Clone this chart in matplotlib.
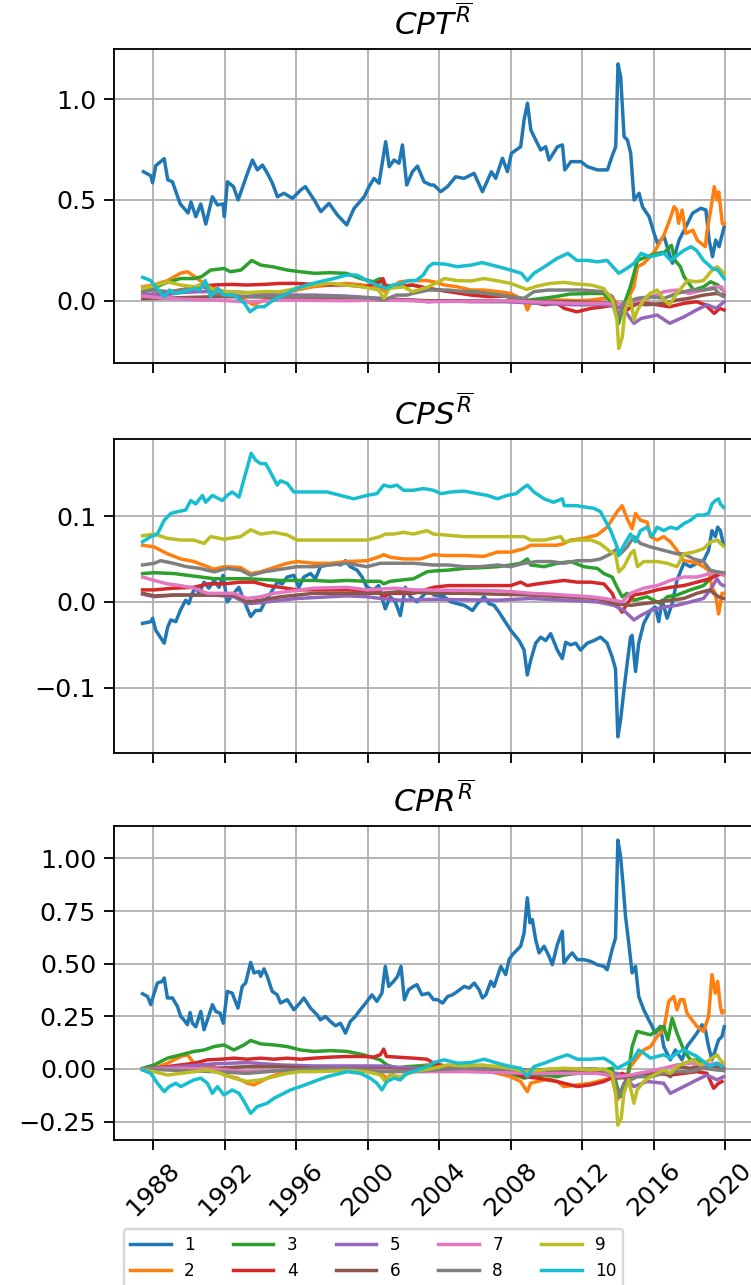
import matplotlib
matplotlib.use("Agg")
import matplotlib.pyplot as plt

# (year, value) readings per series, panel CPT
cpt_1 = [(1987.44, 0.64), (1987.85, 0.62), (1987.95, 0.585), (1988.13, 0.67), (1988.4, 0.69), (1988.6, 0.705),
         (1988.8, 0.60), (1989.06, 0.59), (1989.5, 0.48), (1989.94, 0.435), (1990.1, 0.49), (1990.37, 0.417),
         (1990.65, 0.48), (1990.93, 0.38), (1991.3, 0.516), (1991.58, 0.475), (1991.9, 0.48), (1991.97, 0.417),
         (1992.14, 0.59), (1992.48, 0.566), (1992.74, 0.50), (1993.26, 0.632), (1993.54, 0.698), (1993.82, 0.649),
         (1994.1, 0.673), (1994.38, 0.632), (1994.66, 0.583), (1994.94, 0.516), (1995.3, 0.533), (1995.78, 0.508),
         (1996.25, 0.55), (1996.5, 0.566), (1997.0, 0.50), (1997.37, 0.442), (1997.83, 0.483), (1998.3, 0.425),
         (1998.82, 0.376), (1999.23, 0.458), (1999.8, 0.516), (2000.07, 0.566), (2000.35, 0.607), (2000.63, 0.583),
         (2001.0, 0.789), (2001.2, 0.665), (2001.47, 0.698), (2001.75, 0.682), (2001.94, 0.773), (2002.18, 0.574),
         (2002.5, 0.64), (2002.78, 0.668), (2003.15, 0.59), (2003.52, 0.574), (2003.7, 0.574), (2004.08, 0.541),
         (2004.46, 0.566), (2004.92, 0.615), (2005.39, 0.607), (2005.95, 0.632), (2006.42, 0.541), (2006.92, 0.64),
         (2007.16, 0.607), (2007.54, 0.707), (2007.82, 0.64), (2008.04, 0.731), (2008.56, 0.764), (2008.75, 0.897),
         (2008.94, 0.98), (2009.13, 0.847), (2009.4, 0.797), (2009.68, 0.748), (2009.96, 0.764), (2010.15, 0.698),
         (2010.62, 0.764), (2010.9, 0.773), (2011.03, 0.649), (2011.37, 0.69), (2011.93, 0.69), (2012.3, 0.665),
         (2012.86, 0.649), (2013.42, 0.649), (2013.7, 0.723), (2013.88, 0.764), (2014.01, 1.175), (2014.16, 1.11),
         (2014.35, 0.814), (2014.54, 0.797), (2014.72, 0.731), (2014.91, 0.50), (2015.19, 0.533), (2015.38, 0.466),
         (2015.75, 0.417), (2016.03, 0.334), (2016.22, 0.285), (2016.59, 0.318), (2016.87, 0.235), (2017.06, 0.186),
         (2017.43, 0.301), (2017.81, 0.367), (2018.18, 0.434), (2018.65, 0.459), (2018.93, 0.45), (2019.11, 0.301),
         (2019.3, 0.218), (2019.48, 0.301), (2019.67, 0.268), (2019.95, 0.367)]
cpt_2 = [(1987.4, 0.069), (1988.0, 0.078), (1988.8, 0.10), (1989.5, 0.136), (1989.9, 0.144), (1990.3, 0.12),
         (1990.7, 0.094), (1991.2, 0.069), (1991.95, 0.045), (1992.9, 0.012), (1993.6, -0.02), (1994.0, -0.005),
         (1994.5, 0.012), (1995.1, 0.028), (1996.0, 0.053), (1996.9, 0.069), (1997.9, 0.078), (1998.8, 0.086),
         (1999.7, 0.078), (2000.6, 0.069), (2000.95, 0.045), (2001.8, 0.094), (2002.5, 0.10), (2003.3, 0.10),
         (2003.7, 0.094), (2004.3, 0.078), (2005.0, 0.069), (2005.8, 0.053), (2006.5, 0.053), (2007.3, 0.045),
         (2008.0, 0.036), (2008.75, 0.003), (2008.93, -0.046), (2009.1, -0.013), (2009.9, 0.003), (2011.0, 0.003),
         (2011.7, 0.0), (2012.5, 0.003), (2013.2, 0.012), (2013.7, 0.012), (2014.15, -0.03), (2014.5, 0.0),
         (2014.9, 0.069), (2015.1, 0.169), (2015.45, 0.185), (2015.8, 0.218), (2016.1, 0.25), (2016.6, 0.33),
         (2016.9, 0.40), (2017.15, 0.466), (2017.3, 0.45), (2017.4, 0.384), (2017.6, 0.45), (2017.8, 0.334),
         (2018.2, 0.35), (2018.45, 0.30), (2018.9, 0.268), (2019.0, 0.35), (2019.2, 0.45), (2019.4, 0.566),
         (2019.55, 0.50), (2019.65, 0.54), (2019.85, 0.384), (2019.95, 0.38)]
cpt_3 = [(1987.4, 0.045), (1988.0, 0.061), (1988.6, 0.086), (1989.5, 0.11), (1990.3, 0.11), (1990.7, 0.12),
         (1991.2, 0.152), (1991.95, 0.16), (1992.3, 0.144), (1992.9, 0.152), (1993.5, 0.20), (1994.0, 0.177),
         (1994.7, 0.168), (1995.5, 0.152), (1996.2, 0.144), (1997.0, 0.136), (1997.9, 0.139), (1998.8, 0.136),
         (1999.6, 0.11), (2000.3, 0.094), (2000.7, 0.11), (2000.9, 0.078), (2001.8, 0.069), (2002.5, 0.078),
         (2003.3, 0.061), (2003.9, 0.053), (2004.9, 0.045), (2005.8, 0.045), (2006.7, 0.036), (2007.4, 0.028),
         (2008.2, 0.012), (2009.0, 0.003), (2009.8, 0.012), (2010.5, 0.02), (2011.3, 0.033), (2012.5, 0.036),
         (2013.2, 0.036), (2013.7, -0.013), (2014.05, -0.112), (2014.3, -0.03), (2014.7, 0.069), (2015.1, 0.20),
         (2015.6, 0.218), (2016.2, 0.235), (2016.6, 0.24), (2017.0, 0.275), (2017.2, 0.20), (2017.5, 0.169),
         (2017.7, 0.12), (2018.25, 0.053), (2018.8, 0.069), (2019.2, 0.094), (2019.6, 0.078), (2019.95, 0.045)]
cpt_4 = [(1987.4, 0.028), (1988.6, 0.036), (1989.5, 0.053), (1990.5, 0.069), (1991.4, 0.078), (1992.3, 0.081),
         (1993.2, 0.078), (1994.2, 0.081), (1995.1, 0.086), (1996.0, 0.086), (1997.0, 0.081), (1997.9, 0.078),
         (1998.8, 0.078), (1999.9, 0.069), (2000.7, 0.094), (2000.85, 0.11), (2001.0, 0.069), (2001.6, 0.069),
         (2002.5, 0.078), (2003.4, 0.061), (2004.0, 0.053), (2004.9, 0.04), (2005.8, 0.028), (2006.8, 0.02),
         (2007.7, 0.023), (2008.4, 0.012), (2009.1, -0.005), (2009.9, -0.02), (2010.6, -0.013), (2011.0, -0.038),
         (2011.7, -0.055), (2012.5, -0.038), (2013.2, -0.03), (2013.9, -0.02), (2014.5, -0.046), (2015.1, -0.013),
         (2015.6, -0.013), (2016.2, -0.02), (2016.9, -0.03), (2017.7, -0.013), (2018.4, -0.005), (2018.9, -0.02),
         (2019.4, -0.063), (2019.7, -0.038), (2019.95, -0.046)]
cpt_5 = [(1987.4, 0.033), (1988.6, 0.028), (1989.5, 0.04), (1990.5, 0.045), (1992.3, 0.045), (1993.2, 0.04),
         (1994.2, 0.033), (1995.1, 0.028), (1997.0, 0.028), (1998.8, 0.023), (2000.7, 0.012), (2002.5, 0.003),
         (2003.4, -0.005), (2004.0, 0.0), (2005.8, -0.005), (2007.7, -0.005), (2009.6, -0.013), (2011.5, -0.02),
         (2013.3, -0.02), (2014.0, -0.03), (2014.5, -0.063), (2014.9, -0.112), (2015.3, -0.088), (2016.2, -0.071),
         (2016.9, -0.112), (2017.7, -0.08), (2018.4, -0.046), (2019.0, -0.02), (2019.5, -0.038), (2019.95, -0.005)]
cpt_6 = [(1987.4, 0.01), (1988.6, 0.012), (1989.5, 0.015), (1991.4, 0.02), (1993.2, 0.02), (1995.1, 0.017),
         (1997.0, 0.012), (1998.8, 0.01), (2000.7, 0.007), (2002.5, 0.003), (2003.4, 0.0), (2007.7, 0.0),
         (2011.5, -0.005), (2013.3, -0.01), (2014.0, -0.02), (2014.8, -0.013), (2015.6, -0.02), (2016.6, -0.013),
         (2017.3, 0.003), (2018.0, 0.012), (2018.8, 0.028), (2019.5, 0.036), (2019.95, 0.028)]
cpt_7 = [(1987.4, 0.023), (1988.6, 0.012), (1989.5, 0.008), (1991.4, 0.003), (1993.2, -0.005), (1994.2, -0.002),
         (1995.1, 0.003), (1998.8, 0.0), (2000.7, 0.003), (2002.5, 0.0), (2003.4, -0.005), (2007.7, 0.0),
         (2011.5, -0.013), (2013.3, -0.013), (2014.0, -0.02), (2014.8, -0.005), (2015.7, 0.012), (2016.6, 0.045),
         (2017.3, 0.053), (2018.0, 0.036), (2018.8, 0.053), (2019.4, 0.069), (2019.8, 0.069), (2019.95, 0.045)]
cpt_8 = [(1987.4, 0.045), (1988.0, 0.053), (1988.8, 0.045), (1989.5, 0.053), (1990.3, 0.061), (1990.8, 0.069),
         (1991.4, 0.036), (1992.3, 0.028), (1993.2, 0.02), (1994.2, 0.023), (1997.0, 0.023), (1998.8, 0.02),
         (2000.3, 0.012), (2000.9, 0.003), (2001.6, 0.028), (2002.2, 0.028), (2002.5, 0.036), (2003.4, 0.053),
         (2004.5, 0.053), (2005.4, 0.045), (2006.3, 0.04), (2007.3, 0.028), (2008.0, 0.02), (2008.75, 0.012),
         (2009.3, 0.045), (2010.1, 0.053), (2012.0, 0.053), (2013.2, 0.045), (2013.7, 0.02), (2014.05, -0.08),
         (2014.3, -0.013), (2015.1, 0.012), (2015.8, 0.02), (2016.6, 0.012), (2017.3, 0.036), (2018.1, 0.053),
         (2018.8, 0.053), (2019.4, 0.061), (2019.75, 0.028), (2019.95, 0.02)]
cpt_9 = [(1987.4, 0.061), (1988.2, 0.078), (1988.8, 0.094), (1989.5, 0.078), (1990.3, 0.069), (1990.8, 0.086),
         (1991.4, 0.053), (1992.1, 0.045), (1993.2, 0.04), (1994.2, 0.045), (1995.1, 0.045), (1996.0, 0.061),
         (1997.0, 0.078), (1997.9, 0.086), (1998.8, 0.078), (1999.7, 0.069), (2000.6, 0.053), (2000.9, 0.012),
         (2001.2, 0.061), (2002.0, 0.069), (2002.5, 0.045), (2003.4, 0.069), (2004.3, 0.11), (2005.0, 0.10),
         (2005.8, 0.098), (2006.5, 0.11), (2007.3, 0.098), (2008.0, 0.086), (2008.9, 0.056), (2009.5, 0.073),
         (2010.2, 0.086), (2011.0, 0.091), (2011.7, 0.083), (2012.5, 0.078), (2013.2, 0.061), (2013.7, 0.003),
         (2013.95, -0.096), (2014.05, -0.237), (2014.25, -0.18), (2014.4, -0.046), (2014.7, 0.02), (2014.9, -0.096),
         (2015.1, -0.046), (2015.45, 0.003), (2015.8, 0.036), (2016.2, 0.053), (2016.6, 0.003), (2016.9, -0.02),
         (2017.3, 0.036), (2017.9, 0.10), (2018.4, 0.094), (2018.8, 0.10), (2019.2, 0.144), (2019.55, 0.169),
         (2019.95, 0.136)]
cpt_10 = [(1987.4, 0.116), (1987.85, 0.10), (1988.2, 0.061), (1988.6, 0.02), (1988.9, 0.053), (1989.2, 0.036),
          (1989.7, 0.045), (1990.3, 0.061), (1990.6, 0.053), (1990.9, 0.10), (1991.2, 0.02), (1991.6, 0.061),
          (1991.95, 0.028), (1992.5, 0.028), (1993.1, -0.013), (1993.4, -0.055), (1993.8, -0.03), (1994.2, -0.03),
          (1994.7, 0.003), (1995.3, 0.028), (1996.0, 0.061), (1996.6, 0.078), (1997.3, 0.094), (1998.1, 0.11),
          (1998.8, 0.127), (1999.4, 0.127), (1999.95, 0.10), (2000.5, 0.078), (2001.05, 0.061), (2001.4, 0.078),
          (2001.9, 0.086), (2002.3, 0.10), (2002.7, 0.10), (2003.1, 0.127), (2003.4, 0.169), (2003.66, 0.185),
          (2004.3, 0.182), (2005.0, 0.169), (2005.8, 0.177), (2006.4, 0.189), (2007.3, 0.169), (2008.0, 0.152),
          (2008.6, 0.136), (2008.93, 0.10), (2009.3, 0.136), (2009.9, 0.169), (2010.6, 0.21), (2011.2, 0.235),
          (2011.7, 0.20), (2012.3, 0.20), (2012.85, 0.193), (2013.4, 0.20), (2014.05, 0.136), (2014.5, 0.16),
          (2014.9, 0.185), (2015.3, 0.235), (2015.8, 0.218), (2016.6, 0.235), (2016.95, 0.20), (2017.7, 0.25),
          (2018.1, 0.268), (2018.4, 0.25), (2018.8, 0.20), (2019.3, 0.16), (2019.6, 0.152), (2019.95, 0.11)]

# panel CPS
cps_1 = [(1987.39, -0.025), (1987.86, -0.023), (1987.95, -0.019), (1988.13, -0.033), (1988.6, -0.048),
         (1988.8, -0.029), (1988.97, -0.021), (1989.25, -0.023), (1989.5, -0.01), (1989.8, 0.002), (1989.98, -0.002),
         (1990.17, 0.01), (1990.36, 0.017), (1990.55, 0.01), (1990.83, 0.023), (1991.1, 0.016), (1991.39, 0.025),
         (1991.67, 0.017), (1991.9, 0.031), (1992.13, 0.0), (1992.5, 0.01), (1992.78, 0.017), (1993.06, 0.002),
         (1993.44, -0.017), (1993.72, -0.01), (1994.0, -0.01), (1994.28, 0.002), (1994.56, 0.01), (1994.93, 0.023),
         (1995.21, 0.021), (1995.49, 0.029), (1995.86, 0.031), (1996.14, 0.017), (1996.42, 0.029), (1996.79, 0.033),
         (1997.07, 0.027), (1997.35, 0.041), (1997.72, 0.043), (1998.09, 0.045), (1998.47, 0.043), (1998.75, 0.048),
         (1999.02, 0.041), (1999.4, 0.037), (1999.68, 0.029), (1999.95, 0.017), (2000.33, 0.014), (2000.61, 0.019),
         (2000.89, -0.002), (2000.98, -0.008), (2001.26, 0.006), (2001.54, 0.0), (2001.82, -0.016), (2002.1, 0.017),
         (2002.38, 0.006), (2002.75, 0.0), (2003.13, 0.008), (2003.41, 0.014), (2003.7, 0.008), (2004.28, 0.006),
         (2004.65, 0.0), (2005.02, -0.002), (2005.4, -0.004), (2005.86, -0.01), (2006.14, -0.002), (2006.51, 0.006),
         (2006.79, -0.002), (2007.07, -0.004), (2007.35, -0.012), (2007.63, -0.021), (2008.0, -0.033),
         (2008.47, -0.045), (2008.75, -0.056), (2008.93, -0.085), (2009.12, -0.068), (2009.4, -0.048),
         (2009.68, -0.041), (2009.96, -0.045), (2010.24, -0.037), (2010.61, -0.056), (2010.89, -0.066),
         (2011.08, -0.047), (2011.36, -0.05), (2011.64, -0.048), (2011.91, -0.056), (2012.29, -0.048),
         (2012.66, -0.045), (2013.03, -0.041), (2013.4, -0.048), (2013.68, -0.064), (2013.87, -0.078),
         (2014.0, -0.157), (2014.15, -0.138), (2014.34, -0.103), (2014.52, -0.072), (2014.71, -0.041),
         (2014.8, -0.039), (2014.99, -0.081), (2015.17, -0.048), (2015.45, -0.025), (2015.83, -0.01),
         (2016.1, -0.006), (2016.29, -0.023), (2016.48, 0.002), (2016.76, -0.019), (2017.04, -0.002),
         (2017.31, 0.025), (2017.69, 0.045), (2018.06, 0.041), (2018.43, 0.045), (2018.8, 0.048), (2019.08, 0.06),
         (2019.27, 0.083), (2019.46, 0.076), (2019.59, 0.087), (2019.74, 0.083), (2019.92, 0.066)]
cps_2 = [(1987.39, 0.066), (1988.04, 0.064), (1988.78, 0.056), (1989.53, 0.05), (1990.27, 0.047), (1991.02, 0.041),
         (1991.39, 0.038), (1991.95, 0.041), (1992.88, 0.04), (1993.44, 0.033), (1994.0, 0.035), (1994.74, 0.04),
         (1995.49, 0.045), (1996.04, 0.047), (1996.98, 0.045), (1997.91, 0.045), (1998.84, 0.047), (1999.96, 0.048),
         (2000.7, 0.053), (2000.89, 0.055), (2001.26, 0.052), (2002.0, 0.05), (2002.93, 0.05), (2003.68, 0.055),
         (2004.28, 0.054), (2005.4, 0.054), (2006.5, 0.053), (2007.26, 0.058), (2008.0, 0.058), (2008.75, 0.062),
         (2009.12, 0.066), (2010.6, 0.066), (2010.98, 0.068), (2011.36, 0.072), (2012.1, 0.074), (2012.85, 0.078),
         (2013.4, 0.087), (2013.96, 0.105), (2014.24, 0.112), (2014.52, 0.097), (2014.8, 0.085), (2014.99, 0.103),
         (2015.27, 0.095), (2015.64, 0.093), (2015.83, 0.076), (2016.2, 0.072), (2016.57, 0.076), (2016.94, 0.07),
         (2017.31, 0.06), (2017.69, 0.048), (2018.06, 0.047), (2018.43, 0.045), (2018.8, 0.041), (2019.08, 0.037),
         (2019.27, 0.017), (2019.46, 0.01), (2019.64, -0.014), (2019.74, -0.002), (2019.83, 0.01), (2019.92, 0.01)]
cps_3 = [(1987.39, 0.033), (1988.04, 0.034), (1989.15, 0.033), (1989.9, 0.031), (1990.65, 0.029), (1991.39, 0.027),
         (1993.25, 0.027), (1994.19, 0.026), (1995.11, 0.025), (1996.98, 0.025), (1997.91, 0.024), (1998.84, 0.025),
         (1999.96, 0.024), (2000.7, 0.024), (2000.89, 0.021), (2001.26, 0.024), (2002.56, 0.027), (2003.31, 0.035),
         (2003.68, 0.036), (2004.5, 0.037), (2005.4, 0.039), (2006.5, 0.04), (2007.26, 0.041), (2008.0, 0.043),
         (2008.56, 0.045), (2008.93, 0.05), (2009.12, 0.043), (2009.87, 0.041), (2010.61, 0.045), (2011.36, 0.047),
         (2012.1, 0.041), (2012.85, 0.039), (2013.22, 0.033), (2013.68, 0.029), (2013.96, 0.017), (2014.24, 0.006),
         (2014.52, 0.01), (2014.9, 0.002), (2015.27, 0.004), (2015.64, 0.006), (2016.0, 0.002), (2016.38, -0.002),
         (2016.76, 0.006), (2017.31, 0.008), (2018.06, 0.014), (2018.8, 0.019), (2019.17, 0.027), (2019.55, 0.033),
         (2019.92, 0.033)]
cps_4 = [(1987.39, 0.014), (1988.04, 0.014), (1989.15, 0.016), (1990.27, 0.017), (1991.02, 0.021), (1991.95, 0.021),
         (1992.88, 0.023), (1993.63, 0.023), (1994.37, 0.019), (1995.11, 0.017), (1996.04, 0.014), (1998.84, 0.014),
         (1999.96, 0.013), (2000.7, 0.01), (2000.89, 0.006), (2001.26, 0.01), (2002.56, 0.01), (2003.68, 0.017),
         (2004.5, 0.019), (2008.0, 0.019), (2008.56, 0.023), (2008.93, 0.019), (2009.5, 0.021), (2010.24, 0.023),
         (2010.98, 0.025), (2011.73, 0.023), (2012.48, 0.023), (2013.22, 0.021), (2013.68, 0.01), (2013.96, -0.004),
         (2014.24, -0.012), (2014.52, -0.002), (2014.9, 0.008), (2015.45, 0.01), (2016.2, 0.014), (2016.94, 0.017),
         (2017.69, 0.019), (2018.43, 0.023), (2018.8, 0.025), (2019.17, 0.027), (2019.55, 0.031), (2019.92, 0.033)]
cps_5 = [(1987.39, 0.009), (1988.04, 0.006), (1989.15, 0.008), (1991.39, 0.008), (1992.5, 0.006), (1993.25, -0.002),
         (1994.0, -0.001), (1995.11, 0.002), (1996.04, 0.004), (1996.98, 0.005), (1998.84, 0.007), (1999.96, 0.006),
         (2000.7, 0.004), (2001.8, 0.002), (2003.68, 0.003), (2007.26, 0.002), (2009.12, 0.004), (2010.98, 0.002),
         (2012.85, 0.0), (2013.78, -0.004), (2014.34, -0.01), (2014.9, -0.021), (2015.27, -0.016), (2015.83, -0.01),
         (2016.57, -0.006), (2017.31, -0.004), (2018.06, 0.0), (2018.8, 0.004), (2019.27, 0.017), (2019.55, 0.027),
         (2019.74, 0.021), (2019.92, 0.019)]
cps_6 = [(1987.39, 0.01), (1988.04, 0.007), (1989.15, 0.008), (1992.5, 0.008), (1993.25, 0.0), (1994.0, 0.002),
         (1995.11, 0.006), (1996.04, 0.008), (1996.98, 0.01), (2000.7, 0.01), (2001.8, 0.012), (2003.68, 0.01),
         (2005.4, 0.01), (2007.26, 0.009), (2009.12, 0.008), (2010.98, 0.006), (2012.85, 0.004), (2013.78, -0.002),
         (2014.71, -0.004), (2015.45, -0.002), (2016.2, 0.0), (2016.94, 0.002), (2017.69, 0.004), (2018.43, 0.01),
         (2019.17, 0.014), (2019.36, 0.01), (2019.64, 0.006), (2019.92, 0.004)]
cps_7 = [(1987.39, 0.029), (1988.04, 0.025), (1988.78, 0.021), (1989.53, 0.019), (1990.27, 0.016), (1991.02, 0.01),
         (1992.5, 0.01), (1993.25, 0.004), (1994.0, 0.006), (1994.74, 0.01), (1995.86, 0.013), (1996.98, 0.016),
         (1998.84, 0.017), (1999.96, 0.014), (2001.5, 0.016), (2002.56, 0.014), (2007.26, 0.013), (2008.0, 0.012),
         (2009.12, 0.01), (2010.24, 0.009), (2011.0, 0.008), (2011.73, 0.007), (2012.48, 0.006), (2013.22, 0.004),
         (2013.78, 0.002), (2014.24, 0.0), (2014.71, 0.01), (2015.45, 0.016), (2016.2, 0.019), (2016.94, 0.025),
         (2017.69, 0.029), (2018.43, 0.029), (2019.17, 0.033), (2019.55, 0.035), (2019.92, 0.031)]
cps_8 = [(1987.39, 0.043), (1988.04, 0.045), (1988.4, 0.048), (1989.1, 0.045), (1989.85, 0.041), (1990.6, 0.039),
         (1991.39, 0.035), (1992.13, 0.039), (1992.88, 0.037), (1993.44, 0.031), (1994.19, 0.035), (1995.11, 0.038),
         (1996.04, 0.041), (1996.98, 0.041), (1997.91, 0.043), (1998.84, 0.045), (1999.96, 0.041), (2000.7, 0.045),
         (2002.56, 0.045), (2003.68, 0.043), (2004.5, 0.043), (2005.4, 0.041), (2006.3, 0.041), (2007.26, 0.043),
         (2008.0, 0.041), (2008.75, 0.045), (2009.5, 0.047), (2010.24, 0.047), (2010.98, 0.045), (2011.73, 0.048),
         (2012.48, 0.048), (2013.03, 0.05), (2013.6, 0.056), (2013.96, 0.062), (2014.15, 0.056), (2014.52, 0.064),
         (2014.9, 0.076), (2015.27, 0.068), (2015.83, 0.064), (2016.57, 0.06), (2017.31, 0.056), (2017.69, 0.056),
         (2018.25, 0.05), (2018.8, 0.047), (2019.17, 0.037), (2019.55, 0.035), (2019.92, 0.034)]
cps_9 = [(1987.39, 0.077), (1988.04, 0.079), (1988.78, 0.074), (1989.53, 0.072), (1990.27, 0.072), (1990.83, 0.068),
         (1991.2, 0.076), (1991.95, 0.073), (1992.88, 0.076), (1993.44, 0.084), (1994.0, 0.079), (1994.74, 0.081),
         (1995.49, 0.078), (1996.04, 0.072), (1999.96, 0.072), (2000.7, 0.076), (2000.98, 0.079), (2001.45, 0.079),
         (2002.0, 0.081), (2002.56, 0.079), (2003.31, 0.083), (2003.68, 0.079), (2004.28, 0.078), (2005.4, 0.076),
         (2008.75, 0.076), (2009.12, 0.072), (2009.87, 0.072), (2010.8, 0.076), (2011.0, 0.07), (2011.7, 0.072),
         (2012.5, 0.072), (2013.0, 0.068), (2013.6, 0.058), (2013.87, 0.056), (2014.05, 0.035), (2014.34, 0.041),
         (2014.71, 0.056), (2014.9, 0.06), (2015.1, 0.041), (2015.45, 0.047), (2016.2, 0.047), (2016.76, 0.045),
         (2017.31, 0.041), (2017.69, 0.056), (2018.25, 0.058), (2018.8, 0.062), (2019.2, 0.07), (2019.59, 0.072),
         (2019.74, 0.068), (2019.92, 0.065)]
cps_10 = [(1987.39, 0.07), (1987.85, 0.076), (1988.22, 0.079), (1988.6, 0.095), (1988.97, 0.103), (1989.35, 0.105),
          (1989.8, 0.107), (1990.09, 0.118), (1990.37, 0.114), (1990.74, 0.124), (1990.92, 0.116), (1991.3, 0.124),
          (1991.85, 0.118), (1992.13, 0.124), (1992.41, 0.128), (1992.79, 0.122), (1993.07, 0.143), (1993.47, 0.173),
          (1993.72, 0.165), (1994.0, 0.161), (1994.28, 0.161), (1994.55, 0.151), (1994.93, 0.136), (1995.11, 0.141),
          (1995.49, 0.138), (1995.86, 0.128), (1997.72, 0.128), (1998.47, 0.124), (1999.21, 0.12), (1999.96, 0.124),
          (2000.51, 0.126), (2000.89, 0.136), (2001.26, 0.134), (2001.63, 0.136), (2002.0, 0.13), (2002.56, 0.13),
          (2003.12, 0.132), (2003.68, 0.13), (2004.1, 0.126), (2004.65, 0.128), (2005.4, 0.129), (2006.14, 0.126),
          (2006.7, 0.124), (2007.26, 0.12), (2007.8, 0.124), (2008.3, 0.126), (2008.65, 0.132), (2008.93, 0.136),
          (2009.3, 0.128), (2009.87, 0.12), (2010.4, 0.116), (2010.89, 0.12), (2011.0, 0.112), (2011.7, 0.112),
          (2012.3, 0.11), (2012.66, 0.109), (2013.03, 0.105), (2013.6, 0.083), (2013.96, 0.064), (2014.05, 0.054),
          (2014.34, 0.066), (2014.71, 0.079), (2014.99, 0.07), (2015.27, 0.083), (2015.64, 0.087), (2015.92, 0.076),
          (2016.2, 0.087), (2016.57, 0.083), (2016.94, 0.087), (2017.31, 0.085), (2017.69, 0.091), (2018.06, 0.095),
          (2018.43, 0.101), (2018.8, 0.101), (2019.08, 0.103), (2019.27, 0.114), (2019.46, 0.118), (2019.64, 0.12),
          (2019.74, 0.114), (2019.92, 0.11)]

# panel CPR
cpr_1 = [(1987.39, 0.357), (1987.67, 0.344), (1987.85, 0.305), (1988.04, 0.36), (1988.22, 0.408), (1988.5, 0.416),
         (1988.6, 0.432), (1988.78, 0.337), (1989.06, 0.337), (1989.34, 0.297), (1989.53, 0.249), (1989.71, 0.233),
         (1989.9, 0.21), (1990.05, 0.268), (1990.18, 0.217), (1990.37, 0.20), (1990.65, 0.273), (1990.83, 0.186),
         (1991.02, 0.233), (1991.3, 0.305), (1991.49, 0.273), (1991.73, 0.265), (1991.91, 0.217), (1992.13, 0.368),
         (1992.41, 0.36), (1992.73, 0.289), (1992.97, 0.392), (1993.16, 0.408), (1993.44, 0.506), (1993.63, 0.456),
         (1993.91, 0.463), (1994.0, 0.44), (1994.19, 0.475), (1994.37, 0.44), (1994.65, 0.368), (1994.93, 0.352),
         (1995.11, 0.313), (1995.49, 0.329), (1995.86, 0.281), (1996.23, 0.316), (1996.42, 0.337), (1996.79, 0.289),
         (1997.16, 0.257), (1997.35, 0.233), (1997.63, 0.249), (1997.91, 0.225), (1998.19, 0.205), (1998.47, 0.217),
         (1998.75, 0.17), (1999.02, 0.225), (1999.3, 0.249), (1999.58, 0.281), (1999.96, 0.321), (2000.23, 0.352),
         (2000.51, 0.321), (2000.79, 0.36), (2000.98, 0.487), (2001.17, 0.392), (2001.45, 0.416), (2001.67, 0.44),
         (2001.86, 0.487), (2002.05, 0.329), (2002.28, 0.376), (2002.56, 0.392), (2002.75, 0.40), (2003.03, 0.352),
         (2003.4, 0.36), (2003.68, 0.329), (2003.9, 0.329), (2004.19, 0.313), (2004.47, 0.344), (2004.74, 0.352),
         (2005.02, 0.368), (2005.4, 0.392), (2005.68, 0.384), (2005.96, 0.408), (2006.23, 0.376), (2006.42, 0.337),
         (2006.61, 0.352), (2006.89, 0.416), (2007.07, 0.392), (2007.45, 0.487), (2007.72, 0.448), (2007.91, 0.519),
         (2008.1, 0.543), (2008.38, 0.567), (2008.56, 0.583), (2008.75, 0.646), (2008.93, 0.813), (2009.08, 0.694),
         (2009.21, 0.71), (2009.4, 0.614), (2009.59, 0.551), (2009.87, 0.583), (2010.15, 0.535), (2010.33, 0.495),
         (2010.61, 0.59), (2010.89, 0.654), (2010.98, 0.503), (2011.26, 0.535), (2011.45, 0.551), (2011.73, 0.519),
         (2012.1, 0.519), (2012.47, 0.511), (2012.85, 0.495), (2013.22, 0.487), (2013.4, 0.471), (2013.68, 0.567),
         (2013.87, 0.622), (2014.0, 1.087), (2014.15, 1.011), (2014.3, 0.868), (2014.43, 0.725), (2014.61, 0.598),
         (2014.8, 0.456), (2014.99, 0.487), (2015.17, 0.344), (2015.45, 0.281), (2015.73, 0.233), (2015.92, 0.202),
         (2016.1, 0.17), (2016.38, 0.202), (2016.57, 0.106), (2016.94, 0.043), (2017.22, 0.09), (2017.59, 0.043),
         (2017.87, 0.106), (2018.15, 0.138), (2018.43, 0.17), (2018.71, 0.21), (2018.9, 0.186), (2019.08, 0.106),
         (2019.27, 0.043), (2019.46, 0.09), (2019.64, 0.138), (2019.83, 0.154), (2019.96, 0.20)]
cpr_2 = [(1987.39, 0.0), (1988.04, 0.003), (1988.78, 0.027), (1989.53, 0.059), (1989.9, 0.067), (1990.27, 0.027),
         (1990.83, 0.019), (1991.39, 0.011), (1991.95, -0.029), (1992.69, -0.044), (1993.25, -0.068),
         (1993.63, -0.076), (1994.0, -0.06), (1994.55, -0.037), (1995.11, -0.021), (1996.04, -0.005), (1996.98, 0.0),
         (1998.84, -0.005), (1999.96, -0.008), (2000.7, -0.021), (2001.07, -0.044), (2001.45, -0.013), (2002.0, 0.003),
         (2002.56, 0.011), (2003.31, 0.019), (2003.68, 0.019), (2004.47, 0.003), (2006.33, -0.005), (2007.26, -0.021),
         (2008.0, -0.037), (2008.56, -0.06), (2008.93, -0.108), (2009.12, -0.068), (2009.87, -0.052),
         (2010.61, -0.06), (2010.98, -0.084), (2011.73, -0.076), (2012.47, -0.068), (2013.22, -0.052),
         (2013.68, -0.044), (2013.96, -0.148), (2014.24, -0.116), (2014.52, -0.037), (2014.71, 0.011),
         (2014.99, 0.043), (2015.45, 0.09), (2015.83, 0.106), (2016.2, 0.154), (2016.57, 0.186), (2016.85, 0.321),
         (2017.13, 0.344), (2017.31, 0.281), (2017.5, 0.329), (2017.69, 0.329), (2017.87, 0.265), (2018.15, 0.233),
         (2018.43, 0.202), (2018.8, 0.178), (2019.08, 0.249), (2019.27, 0.448), (2019.46, 0.36), (2019.59, 0.416),
         (2019.74, 0.297), (2019.83, 0.265), (2019.92, 0.273)]
cpr_3 = [(1987.39, 0.003), (1988.04, 0.019), (1988.78, 0.051), (1989.53, 0.067), (1990.27, 0.083), (1990.83, 0.09),
         (1991.39, 0.106), (1991.95, 0.114), (1992.5, 0.09), (1993.07, 0.114), (1993.44, 0.135), (1994.0, 0.119),
         (1994.74, 0.114), (1995.49, 0.106), (1996.23, 0.09), (1996.98, 0.083), (1997.91, 0.087), (1998.84, 0.083),
         (1999.77, 0.067), (2000.7, 0.043), (2001.07, 0.019), (2001.63, 0.003), (2002.19, 0.011), (2002.93, 0.014),
         (2003.68, 0.011), (2004.47, 0.003), (2005.4, 0.0), (2006.33, -0.008), (2007.26, -0.013), (2008.0, -0.021),
         (2008.75, -0.044), (2009.12, -0.037), (2009.87, -0.029), (2010.61, -0.037), (2010.98, -0.029),
         (2011.73, -0.021), (2012.47, -0.013), (2013.22, -0.005), (2013.68, 0.003), (2013.96, -0.084),
         (2014.15, -0.132), (2014.34, -0.084), (2014.61, -0.005), (2014.8, 0.106), (2015.08, 0.178), (2015.45, 0.17),
         (2015.83, 0.162), (2016.2, 0.186), (2016.57, 0.202), (2016.8, 0.138), (2017.04, 0.241), (2017.31, 0.17),
         (2017.69, 0.09), (2018.06, 0.043), (2018.43, 0.043), (2018.8, 0.019), (2019.17, 0.011), (2019.55, 0.003),
         (2019.92, 0.0)]
cpr_4 = [(1987.39, 0.0), (1988.04, 0.003), (1988.78, 0.011), (1989.53, 0.019), (1990.27, 0.027), (1991.02, 0.043),
         (1991.76, 0.046), (1992.5, 0.051), (1993.25, 0.046), (1994.0, 0.051), (1994.74, 0.046), (1995.49, 0.051),
         (1996.23, 0.046), (1996.98, 0.051), (1997.91, 0.056), (1998.84, 0.059), (1999.77, 0.059), (2000.33, 0.056),
         (2000.7, 0.067), (2000.89, 0.094), (2001.04, 0.059), (2001.63, 0.056), (2002.56, 0.051), (2003.31, 0.046),
         (2003.68, 0.027), (2004.47, 0.011), (2005.4, 0.003), (2006.33, 0.0), (2007.26, -0.005), (2008.0, -0.013),
         (2008.75, -0.037), (2009.5, -0.044), (2010.24, -0.052), (2010.98, -0.068), (2011.73, -0.084),
         (2012.47, -0.076), (2013.22, -0.06), (2013.78, -0.037), (2014.24, -0.021), (2014.71, -0.037),
         (2015.45, -0.029), (2016.2, -0.021), (2016.94, -0.029), (2017.69, -0.021), (2018.43, -0.013),
         (2018.99, -0.021), (2019.36, -0.092), (2019.64, -0.068), (2019.83, -0.06)]
cpr_5 = [(1987.39, 0.0), (1989.53, 0.011), (1991.39, 0.024), (1993.25, 0.03), (1995.11, 0.019), (1996.98, 0.014),
         (2000.7, 0.014), (2002.56, 0.003), (2005.4, 0.0), (2007.26, -0.008), (2009.12, -0.013), (2012.85, -0.013),
         (2013.96, -0.021), (2014.52, -0.052), (2014.9, -0.084), (2015.64, -0.06), (2016.57, -0.068),
         (2016.94, -0.116), (2017.69, -0.084), (2018.43, -0.052), (2018.99, -0.029), (2019.55, -0.052),
         (2019.92, -0.037)]
cpr_6 = [(1987.39, 0.0), (1989.53, 0.003), (1991.39, 0.003), (1993.25, 0.011), (1995.11, 0.011), (1996.98, 0.003),
         (1998.84, 0.0), (2000.7, 0.0), (2002.56, -0.008), (2005.4, -0.005), (2009.12, -0.013), (2012.85, -0.013),
         (2013.96, -0.044), (2014.71, -0.037), (2015.64, -0.021), (2016.57, -0.013), (2016.94, -0.037),
         (2017.31, 0.011), (2018.06, 0.003), (2018.8, 0.019), (2019.55, 0.011), (2019.92, 0.003)]
cpr_7 = [(1987.39, 0.0), (1989.53, 0.003), (1991.39, 0.0), (1993.25, -0.013), (1995.11, -0.008), (1996.98, -0.005),
         (1998.84, -0.005), (2000.7, -0.008), (2002.56, -0.013), (2005.4, -0.013), (2009.12, -0.021),
         (2012.85, -0.021), (2013.96, -0.037), (2014.71, -0.029), (2015.64, -0.013), (2016.57, 0.003),
         (2017.31, 0.019), (2018.06, 0.027), (2018.8, 0.019), (2019.55, 0.027), (2019.92, 0.019)]
cpr_8 = [(1987.39, 0.0), (1989.53, -0.008), (1991.39, -0.013), (1993.25, -0.021), (1995.11, -0.008), (1996.98, 0.0),
         (1998.84, 0.0), (2000.7, -0.013), (2002.56, -0.013), (2003.68, -0.005), (2005.4, 0.003), (2007.26, 0.0),
         (2009.12, -0.005), (2010.98, 0.0), (2012.85, 0.0), (2013.68, -0.021), (2014.05, -0.132), (2014.34, -0.068),
         (2015.08, -0.037), (2015.83, -0.037), (2016.57, -0.021), (2017.31, -0.013), (2018.06, -0.013),
         (2018.8, 0.003), (2019.55, -0.005), (2019.92, -0.008)]
cpr_9 = [(1987.39, -0.005), (1988.04, -0.013), (1988.78, -0.029), (1989.53, -0.021), (1990.27, -0.013),
         (1991.02, -0.005), (1991.76, -0.021), (1992.5, -0.044), (1993.25, -0.06), (1994.0, -0.052),
         (1994.74, -0.037), (1995.49, -0.021), (1996.23, -0.013), (1996.98, -0.013), (1998.84, -0.008),
         (1999.96, -0.013), (2000.7, -0.029), (2000.98, -0.06), (2001.26, -0.029), (2001.82, -0.037),
         (2002.56, -0.013), (2003.68, 0.003), (2004.47, 0.019), (2005.4, 0.014), (2006.33, 0.019), (2007.26, 0.011),
         (2008.0, 0.003), (2008.75, -0.013), (2009.5, -0.008), (2010.24, 0.0), (2010.98, 0.003), (2011.73, 0.0),
         (2012.47, -0.005), (2013.22, 0.0), (2013.68, -0.021), (2013.87, -0.116), (2014.0, -0.267),
         (2014.19, -0.235), (2014.34, -0.116), (2014.61, -0.052), (2014.9, -0.163), (2015.08, -0.10),
         (2015.45, -0.06), (2015.83, -0.037), (2016.2, -0.021), (2016.57, -0.005), (2016.94, -0.021),
         (2017.31, 0.011), (2017.69, 0.027), (2018.25, 0.043), (2018.61, 0.019), (2018.99, 0.035), (2019.27, 0.051),
         (2019.55, 0.067), (2019.74, 0.043), (2019.92, 0.027)]
cpr_10 = [(1987.39, -0.005), (1987.85, -0.021), (1988.22, -0.068), (1988.6, -0.108), (1988.88, -0.084),
          (1989.25, -0.068), (1989.53, -0.084), (1989.9, -0.068), (1990.27, -0.052), (1990.65, -0.044),
          (1991.02, -0.068), (1991.3, -0.116), (1991.58, -0.084), (1991.95, -0.124), (1992.41, -0.10),
          (1992.79, -0.116), (1993.07, -0.154), (1993.44, -0.211), (1993.81, -0.179), (1994.37, -0.163),
          (1994.74, -0.14), (1995.11, -0.124), (1995.67, -0.10), (1996.23, -0.084), (1996.98, -0.06),
          (1997.72, -0.037), (1998.47, -0.021), (1998.84, -0.013), (1999.58, -0.021), (2000.14, -0.044),
          (2000.51, -0.068), (2000.79, -0.10), (2001.07, -0.06), (2001.45, -0.044), (2001.82, -0.052),
          (2002.19, -0.021), (2002.56, -0.013), (2003.31, 0.011), (2003.68, 0.03), (2004.28, 0.043), (2005.02, 0.027),
          (2005.77, 0.03), (2006.51, 0.046), (2007.26, 0.027), (2008.0, 0.011), (2008.56, 0.003), (2008.93, -0.037),
          (2009.3, 0.011), (2009.87, 0.027), (2010.61, 0.051), (2011.17, 0.067), (2011.73, 0.046), (2012.47, 0.046),
          (2013.22, 0.051), (2013.68, 0.027), (2013.96, 0.003), (2014.52, 0.027), (2014.9, 0.051), (2015.17, 0.09),
          (2015.45, 0.075), (2015.83, 0.051), (2016.57, 0.067), (2016.94, 0.051), (2017.31, 0.075), (2017.69, 0.09),
          (2018.06, 0.075), (2018.43, 0.059), (2018.8, 0.035), (2019.17, 0.011), (2019.55, 0.027), (2019.83, 0.011)]

titles = [r"$CPT^{\overline{R}}$", r"$CPS^{\overline{R}}$", r"$CPR^{\overline{R}}$"]
panel_series = [
    [cpt_1, cpt_2, cpt_3, cpt_4, cpt_5, cpt_6, cpt_7, cpt_8, cpt_9, cpt_10],
    [cps_1, cps_2, cps_3, cps_4, cps_5, cps_6, cps_7, cps_8, cps_9, cps_10],
    [cpr_1, cpr_2, cpr_3, cpr_4, cpr_5, cpr_6, cpr_7, cpr_8, cpr_9, cpr_10],
]
series_labels = [str(i) for i in range(1, 11)]
year_ticks = list(range(1988, 2021, 4))
y_ticks = [[0.0, 0.5, 1.0], [-0.1, 0.0, 0.1], [-0.25, 0.0, 0.25, 0.5, 0.75, 1.0]]
y_limits = [(-0.309, 1.249), (-0.1756, 0.19), (-0.338, 1.154)]

fig = plt.figure(figsize=(751 / 166, 1285 / 166), dpi=166)
bottoms = [0.7175, 0.4142, 0.1128]

handles = []
for k in range(3):
    ax = fig.add_axes([0.1518, bottoms[k], 0.8514, 0.2444])
    lines = []
    for s, lab in zip(panel_series[k], series_labels):
        xs = [p[0] for p in s]
        ys = [p[1] for p in s]
        (ln,) = ax.plot(xs, ys, label=lab)
        lines.append(ln)
    if k == 0:
        handles = lines
    ax.set_title(titles[k], fontsize=13.5)
    ax.grid(visible=True)
    ax.set_xlim(1985.79, 2021.59)
    ax.set_ylim(*y_limits[k])
    ax.set_yticks(y_ticks[k])
    ax.set_xticks(year_ticks)
    ax.tick_params(labelsize=11, length=4.2)
    if k < 2:
        ax.set_xticklabels([])
    else:
        ax.set_xticklabels([str(y) for y in year_ticks], rotation=45)

fig.legend(handles, series_labels, loc="upper center", bbox_to_anchor=(0.4973, 1 - 1229 / 1285),
           ncol=5, fontsize=7.3, handlelength=2.4, columnspacing=2.27, borderaxespad=0)

fig.savefig("out.png", dpi=166)
plt.close(fig)
